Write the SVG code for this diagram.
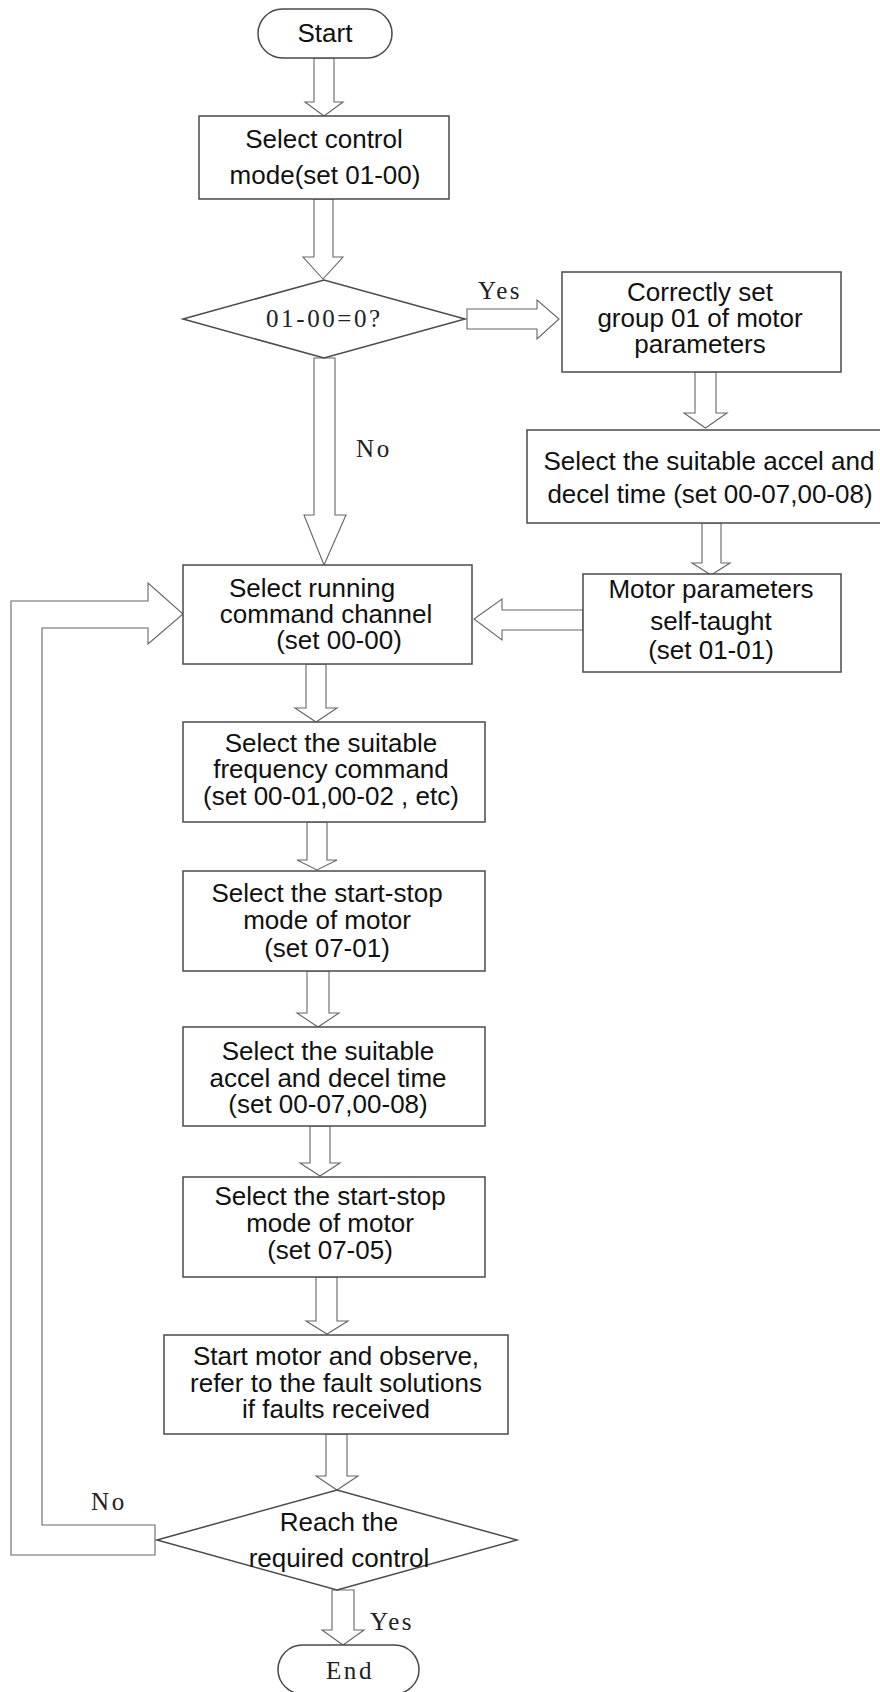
<svg xmlns="http://www.w3.org/2000/svg" width="880" height="1692" viewBox="0 0 880 1692">
<style>
.bx{fill:#fff;stroke:#4a4a4a;stroke-width:1.5}
.ar{fill:#fff;stroke:#666;stroke-width:1.1;stroke-linejoin:miter}
.t{font-family:"Liberation Sans",Arial,sans-serif;font-size:26px;fill:#111;text-anchor:middle}
.s{font-family:"Liberation Serif","Times New Roman",serif;font-size:25px;fill:#222;letter-spacing:2.6px}
</style>
<rect width="880" height="1692" fill="#fff"/>
<g id="connectors">
<polygon class="ar" points="314,58 334,58 334,102 343,102 324,116 305,102 314,102"/>
<polygon class="ar" points="314,199 333,199 333,257 343,257 323,279 303,257 314,257"/>
<polygon class="ar" points="467,309 537,309 537,300 559,319 537,339 537,329 467,329"/>
<polygon class="ar" points="695,372 716,372 716,413 727,413 705.5,428 684,413 695,413"/>
<polygon class="ar" points="702,523 721,523 721,563 730,563 711,575 692,563 702,563"/>
<polygon class="ar" points="583,610 502,610 502,599 474,619 502,640 502,630 583,630"/>
<polygon class="ar" points="314,358 335,358 335,515 346,515 324,565 304,515 314,515"/>
<polygon class="ar" points="306,664 326,664 326,708 337,708 316,722 295,708 306,708"/>
<polygon class="ar" points="307,822 327,822 327,860 337,860 317,870 297,860 307,860"/>
<polygon class="ar" points="307,971 329,971 329,1013 339,1013 318,1027 297,1013 307,1013"/>
<polygon class="ar" points="310,1126 330,1126 330,1163 340,1163 320,1176 300,1163 310,1163"/>
<polygon class="ar" points="316,1277 337,1277 337,1321 348,1321 327,1334 306,1321 316,1321"/>
<polygon class="ar" points="326,1434 347,1434 347,1476 358,1476 337,1490 316,1476 326,1476"/>
<polygon class="ar" points="332,1590 354,1590 354,1630 364,1630 343,1645 322,1630 332,1630"/>
<polygon class="ar" points="155,1555 11,1555 11,601 148,601 148,583 183,614 148,644 148,628 42,628 42,1525 155,1525"/>
<text class="s" x="478" y="299">Yes</text>
<text class="s" x="356" y="457">No</text>
<text class="s" x="91" y="1510">No</text>
<text class="s" x="370" y="1630">Yes</text>
</g>
<g id="start">
<rect class="bx" x="258" y="9" width="134" height="49" rx="24.5"/>
<text class="t" x="325" y="42">Start</text>
</g>
<g id="select-control-mode">
<rect class="bx" x="199" y="116" width="250" height="83"/>
<text class="t" x="324" y="148">Select control</text>
<text class="t" x="325" y="184">mode(set 01-00)</text>
</g>
<g id="decision-01-00">
<polygon class="bx" points="183,319 324,280 465,319 324,358"/>
<text class="s" x="266" y="327">01-00=0?</text>
</g>
<g id="motor-params">
<rect class="bx" x="562" y="272" width="279" height="100"/>
<text class="t" x="700" y="301">Correctly set</text>
<text class="t" x="700" y="327">group 01 of motor</text>
<text class="t" x="700" y="353">parameters</text>
</g>
<g id="accel-decel-right">
<rect class="bx" x="527" y="430" width="356" height="93"/>
<text class="t" x="709" y="470">Select the suitable accel and</text>
<text class="t" x="710" y="503">decel time (set 00-07,00-08)</text>
</g>
<g id="self-taught">
<rect class="bx" x="583" y="574" width="258" height="98"/>
<text class="t" x="711" y="598">Motor parameters</text>
<text class="t" x="711" y="630">self-taught</text>
<text class="t" x="711" y="659">(set 01-01)</text>
</g>
<g id="running-command">
<rect class="bx" x="183" y="565" width="289" height="99"/>
<text class="t" x="312" y="597">Select running</text>
<text class="t" x="326" y="623">command channel</text>
<text class="t" x="339" y="649">(set 00-00)</text>
</g>
<g id="frequency-command">
<rect class="bx" x="183" y="722" width="302" height="100"/>
<text class="t" x="331" y="752">Select the suitable</text>
<text class="t" x="331" y="778">frequency command</text>
<text class="t" x="331" y="805">(set 00-01,00-02 , etc)</text>
</g>
<g id="start-stop-0701">
<rect class="bx" x="183" y="871" width="302" height="100"/>
<text class="t" x="327" y="902">Select the start-stop</text>
<text class="t" x="327" y="929">mode of motor</text>
<text class="t" x="327" y="957">(set 07-01)</text>
</g>
<g id="accel-decel">
<rect class="bx" x="183" y="1027" width="302" height="99"/>
<text class="t" x="328" y="1060">Select the suitable</text>
<text class="t" x="328" y="1087">accel and decel time</text>
<text class="t" x="328" y="1113">(set 00-07,00-08)</text>
</g>
<g id="start-stop-0705">
<rect class="bx" x="183" y="1177" width="302" height="100"/>
<text class="t" x="330" y="1205">Select the start-stop</text>
<text class="t" x="330" y="1232">mode of motor</text>
<text class="t" x="330" y="1259">(set 07-05)</text>
</g>
<g id="start-motor">
<rect class="bx" x="164" y="1335" width="344" height="99"/>
<text class="t" x="336" y="1365">Start motor and observe,</text>
<text class="t" x="336" y="1392">refer to the fault solutions</text>
<text class="t" x="336" y="1418">if faults received</text>
</g>
<g id="decision-reach">
<polygon class="bx" points="157,1540 337,1490 517,1540 337,1590"/>
<text class="t" x="339" y="1531">Reach the</text>
<text class="t" x="339" y="1567">required control</text>
</g>
<g id="end">
<rect class="bx" x="278" y="1645" width="141" height="49" rx="24.5"/>
<text class="s" x="326" y="1679">End</text>
</g>
</svg>
